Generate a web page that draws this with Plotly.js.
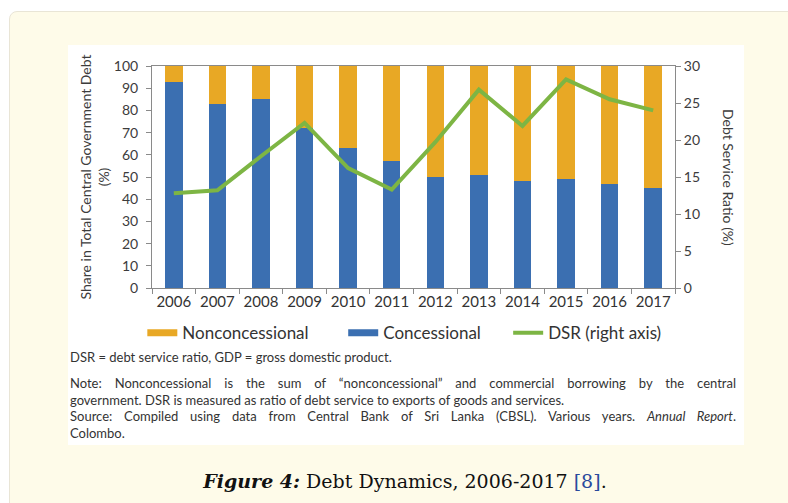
<!DOCTYPE html>
<html><head><meta charset="utf-8">
<script src="https://cdn.plot.ly/plotly-3.0.1.min.js"></script>
<style>
body{margin:0;width:788px;height:503px;background:#fff;overflow:hidden;position:relative;font-family:Lato,sans-serif}
#box{position:absolute;left:9px;top:11px;width:800px;height:520px;background:#fefbe9;border:1.5px solid #e9e5d6;border-radius:8px;box-sizing:border-box}
#panel{position:absolute;left:68px;top:45px;width:676px;height:400px;background:#fff}
#chart{position:absolute;left:68px;top:45px;width:676px;height:300px}
#notes{position:absolute;left:70px;top:349px;width:666px;font-size:13px;line-height:16.5px;color:#333}
#notes .j{text-align:justify;text-align-last:justify}
#caption{position:absolute;left:0;width:810px;top:470px;text-align:center;font-family:"DejaVu Serif",serif;font-size:19px;color:#111}
#caption a{color:#2a4a9c;text-decoration:none}
</style>
</head>
<body>
<div id="box"></div>
<div id="panel"></div>
<div id="chart"></div>
<div id="notes">
<div>DSR = debt service ratio, GDP = gross domestic product.</div>
<div class="j" style="margin-top:9.5px">Note: Nonconcessional is the sum of “nonconcessional” and commercial borrowing by the central</div>
<div>government. DSR is measured as ratio of debt service to exports of goods and services.</div>
<div class="j">Source: Compiled using data from Central Bank of Sri Lanka (CBSL). Various years. <i>Annual Report</i>.</div>
<div>Colombo.</div>
</div>
<div id="caption"><b><i>Figure 4:</i></b> Debt Dynamics, 2006-2017 <a>[8]</a>.</div>
<script>
var years = ['2006','2007','2008','2009','2010','2011','2012','2013','2014','2015','2016','2017'];
var concessional = [93, 83, 85, 72, 63, 57, 50, 51, 48, 49, 47, 45];
var nonconcessional = [7, 17, 15, 28, 37, 43, 50, 49, 52, 51, 53, 55];
var dsr = [12.8, 13.2, 17.8, 22.3, 16.2, 13.3, 19.7, 26.8, 21.9, 28.2, 25.5, 24.0];

var cBlue = '#3b6fb1', cOrange = '#e8a825', cGreen = '#7db544';
var axisGray = '#8a8a8a';

var traces = [
  {type:'bar', x:years, y:concessional, name:'Concessional', marker:{color:cBlue}, showlegend:false, hoverinfo:'x+y'},
  {type:'bar', x:years, y:nonconcessional, name:'Nonconcessional', marker:{color:cOrange}, showlegend:false, hoverinfo:'x+y'},
  {type:'scatter', mode:'lines', x:years, y:dsr, yaxis:'y2', name:'DSR (right axis)', line:{color:cGreen, width:4}, legend:'legend3'},
  {type:'scatter', mode:'lines', x:[null], y:[null], name:'Nonconcessional', line:{color:cOrange, width:7}, legend:'legend', hoverinfo:'skip'},
  {type:'scatter', mode:'lines', x:[null], y:[null], name:'Concessional', line:{color:cBlue, width:7}, legend:'legend2', hoverinfo:'skip'}
];

function leg(x) {
  return {orientation:'h', x:x, xanchor:'left', y:-0.122, yanchor:'top',
          font:{size:17, color:'#333'}, bgcolor:'rgba(0,0,0,0)'};
}

var layout = {
  width:676, height:300,
  margin:{l:84, r:69, t:21, b:57, autoexpand:false},
  paper_bgcolor:'rgba(0,0,0,0)', plot_bgcolor:'rgba(0,0,0,0)',
  barmode:'stack', bargap:0.6,
  font:{family:'Lato, sans-serif', color:'#3c3c3c', size:14},
  showlegend:true,
  legend:leg(-0.0185), legend2:leg(0.3656), legend3:leg(0.681),
  xaxis:{type:'category', showline:true, linecolor:axisGray, linewidth:1, mirror:true,
         ticks:'outside', tickson:'boundaries', ticklen:5, tickcolor:axisGray, tickangle:0,
         automargin:false, tickfont:{size:15, color:'#333'}, showgrid:false, fixedrange:true},
  yaxis:{range:[0,100], dtick:10, showline:true, linecolor:axisGray, ticks:'outside', ticklen:5,
         tickcolor:axisGray, showgrid:false, zeroline:false, ticklabelstandoff:5, automargin:false,
         tickfont:{size:14, color:'#3c3c3c'},
         title:{text:'Share in Total Central Government Debt<br>(%)', font:{size:14, color:'#3c3c3c'}}},
  yaxis2:{range:[0,30], dtick:5, overlaying:'y', side:'right', showline:true, linecolor:axisGray,
          ticks:'outside', ticklen:5, tickcolor:axisGray, showgrid:false, zeroline:false, automargin:false,
          tickfont:{size:14, color:'#3c3c3c'}},
  annotations:[{text:'Debt Service Ratio (%)', textangle:90, xref:'paper', yref:'paper',
                x:1, xanchor:'center', xshift:54, y:0.5, yanchor:'middle', showarrow:false,
                font:{size:14, color:'#3c3c3c'}}]
};

Plotly.newPlot('chart', traces, layout, {displayModeBar:false, staticPlot:true});
</script>
</body></html>
